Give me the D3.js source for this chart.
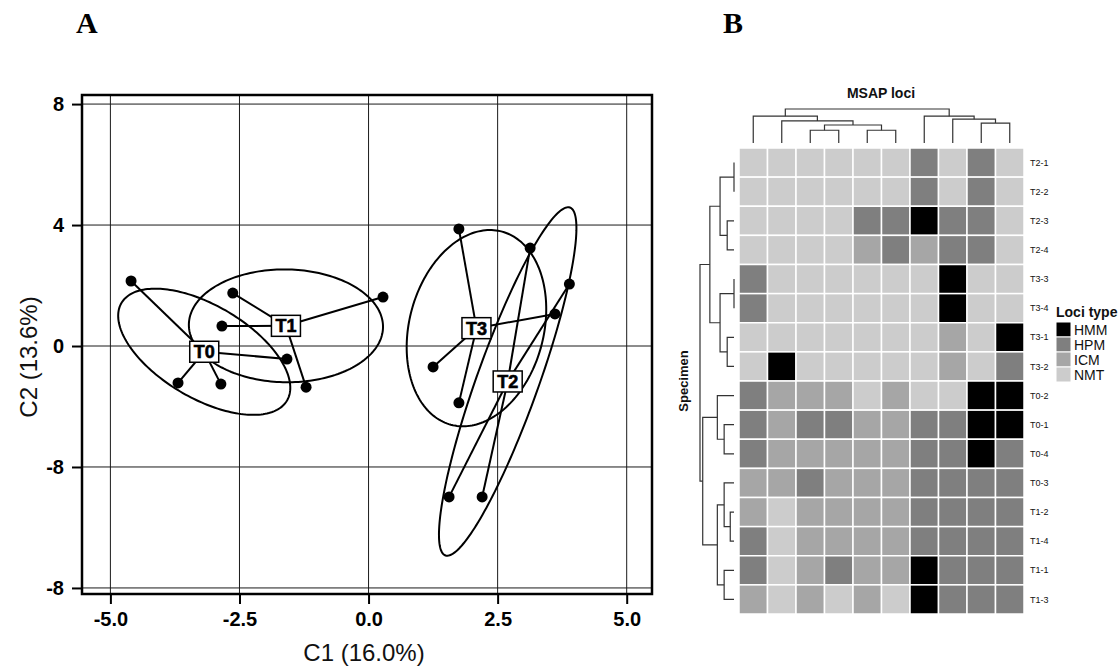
<!DOCTYPE html>
<html>
<head>
<meta charset="utf-8">
<script src="https://cdn.jsdelivr.net/npm/d3@7"></script>
<style>
  body { margin: 0; background: #fff; }
  svg { display: block; }
</style>
</head>
<body>
<script>
// ---- Panel A data: PCoA scores per specimen ----
const pcoaGroup = ['T0','T0','T0','T0','T1','T1','T1','T1','T3','T3','T3','T3','T2','T2','T2','T2'];
const pcoaC1 = [-4.60,-3.69,-2.86,-1.58, -2.63,-2.84,-1.21,0.28, 1.75,1.25,1.75,3.61, 3.13,3.89,1.56,2.20];
const pcoaC2 = [2.15,-1.22,-1.26,-0.43, 1.75,0.66,-1.36,1.62, 3.87,-0.69,-1.88,1.06, 3.24,2.05,-4.99,-4.99];
const groupOrder = ['T0','T1','T3','T2'];
const xTicks = [-5, -2.5, 0, 2.5, 5];
const xTickLabels = ['-5.0','-2.5','0.0','2.5','5.0'];
const yTicks = [8, 4, 0, -4, -8];
const yTickLabels = ['8','4','0','-8','-8'];

// ---- Panel B data: MSAP loci heatmap ----
const specimens = ['T2-1','T2-2','T2-3','T2-4','T3-3','T3-4','T3-1','T3-2',
                   'T0-2','T0-1','T0-4','T0-3','T1-2','T1-4','T1-1','T1-3'];
const lociTypes = ['HMM','HPM','ICM','NMT'];
const lociCount = 10;
const lociMatrix = [
  ['NMT','NMT','NMT','NMT','NMT','NMT','HPM','NMT','HPM','NMT'],
  ['NMT','NMT','NMT','NMT','NMT','NMT','HPM','NMT','HPM','NMT'],
  ['NMT','NMT','NMT','NMT','HPM','HPM','HMM','HPM','HPM','NMT'],
  ['NMT','NMT','NMT','NMT','ICM','HPM','ICM','HPM','HPM','NMT'],
  ['HPM','NMT','NMT','NMT','NMT','NMT','NMT','HMM','NMT','NMT'],
  ['HPM','NMT','NMT','NMT','NMT','NMT','NMT','HMM','NMT','NMT'],
  ['NMT','NMT','NMT','NMT','NMT','NMT','NMT','ICM','NMT','HMM'],
  ['NMT','HMM','NMT','NMT','NMT','NMT','NMT','ICM','NMT','HPM'],
  ['HPM','ICM','ICM','ICM','NMT','ICM','NMT','NMT','HMM','HMM'],
  ['HPM','ICM','HPM','HPM','ICM','ICM','HPM','HPM','HMM','HMM'],
  ['HPM','ICM','ICM','ICM','ICM','ICM','HPM','HPM','HMM','HPM'],
  ['ICM','ICM','HPM','ICM','ICM','ICM','HPM','HPM','HPM','HPM'],
  ['ICM','NMT','ICM','ICM','ICM','ICM','HPM','HPM','HPM','HPM'],
  ['HPM','NMT','ICM','ICM','ICM','ICM','HPM','HPM','HPM','HPM'],
  ['HPM','NMT','ICM','HPM','ICM','ICM','HMM','HPM','HPM','HPM'],
  ['ICM','NMT','ICM','NMT','ICM','NMT','HMM','HPM','HPM','HPM']
];
// hclust-style merges: negative = leaf (1-based, display order), positive = earlier merge
const colMerges = [[-3,-4,0.375],[-5,-6,0.375],[-9,-10,0.586],[1,2,0.53],[-2,4,0.65],
                   [-8,3,0.70],[-1,5,0.79],[-7,6,0.79],[7,8,1.0]];
const rowMerges = [[-1,-2,0.0],[-5,-6,0.0],[-13,-14,0.11],[-3,-4,0.2],[-7,-8,0.2],
                   [-10,-11,0.29],[-12,3,0.29],[-15,-16,0.29],[1,4,0.41],[2,5,0.41],
                   [-9,6,0.49],[7,8,0.49],[9,10,0.71],[11,12,0.92],[13,14,1.0]];

const width = 1120, height = 669;
const svg = d3.select('body').append('svg')
  .attr('width', width).attr('height', height)
  .style('font-family', '"Liberation Sans", Arial, sans-serif');

// panel letters
svg.append('text').attr('x', 76).attr('y', 33).text('A')
  .style('font-family', '"Liberation Serif", "Times New Roman", serif')
  .style('font-weight', 'bold').style('font-size', '30px');
svg.append('text').attr('x', 723).attr('y', 33).text('B')
  .style('font-family', '"Liberation Serif", "Times New Roman", serif')
  .style('font-weight', 'bold').style('font-size', '30px');

// ================= Panel A =================
const x = d3.scaleLinear().domain([-5.55, 5.49]).range([82, 652]);
const y = d3.scaleLinear().domain([-8.2, 8.3]).range([594, 95]);
const pa = svg.append('g');

// grid
pa.selectAll('.vg').data(xTicks).enter().append('line')
  .attr('x1', d => x(d)).attr('x2', d => x(d))
  .attr('y1', y.range()[1]).attr('y2', y.range()[0])
  .attr('stroke', '#1a1a1a').attr('stroke-width', 1);
pa.selectAll('.hg').data(yTicks).enter().append('line')
  .attr('y1', d => y(d)).attr('y2', d => y(d))
  .attr('x1', x.range()[0]).attr('x2', x.range()[1])
  .attr('stroke', '#1a1a1a').attr('stroke-width', 1);

// axes
const yAxis = d3.axisLeft(y).tickValues(yTicks).tickFormat((d, i) => yTickLabels[i])
  .tickSize(10).tickPadding(8);
const xAxis = d3.axisBottom(x).tickValues(xTicks).tickFormat((d, i) => xTickLabels[i])
  .tickSize(10).tickPadding(8);
const gy = pa.append('g').attr('transform', `translate(${x.range()[0]},0)`).call(yAxis);
const gx = pa.append('g').attr('transform', `translate(0,${y.range()[0]})`).call(xAxis);
[gx, gy].forEach(g => {
  g.select('.domain').remove();
  g.selectAll('line').attr('stroke', '#000').attr('stroke-width', 2);
  g.selectAll('text').style('font-size', '20px').style('font-weight', 'bold')
    .style('font-family', '"Liberation Sans", Arial, sans-serif').attr('fill', '#000');
});

// frame
pa.append('rect')
  .attr('x', x.range()[0]).attr('y', y.range()[1])
  .attr('width', x.range()[1] - x.range()[0]).attr('height', y.range()[0] - y.range()[1])
  .attr('fill', 'none').attr('stroke', '#000').attr('stroke-width', 2.5);

// axis titles
pa.append('text').attr('x', 364).attr('y', 661).attr('text-anchor', 'middle')
  .style('font-size', '24px').attr('fill', '#111').text('C1 (16.0%)');
pa.append('text').attr('transform', 'translate(37,357) rotate(-90)').attr('text-anchor', 'middle')
  .style('font-size', '24px').attr('fill', '#111').text('C2 (13.6%)');

// groups: centroid + 1.5 sd ellipse (population covariance)
const pts = pcoaC1.map((c, i) => ({ g: pcoaGroup[i], c1: c, c2: pcoaC2[i] }));
const stats = groupOrder.map(g => {
  const p = pts.filter(d => d.g === g);
  const mx = d3.mean(p, d => d.c1), my = d3.mean(p, d => d.c2);
  const n = p.length;
  const sxx = d3.sum(p, d => (d.c1 - mx) ** 2) / n;
  const syy = d3.sum(p, d => (d.c2 - my) ** 2) / n;
  const sxy = d3.sum(p, d => (d.c1 - mx) * (d.c2 - my)) / n;
  const a = Math.sqrt(sxx), b = sxy / a, c = Math.sqrt(Math.max(syy - b * b, 0));
  const ell = d3.range(0, 201).map(k => {
    const t = k / 200 * 2 * Math.PI;
    return [x(mx + 1.5 * a * Math.cos(t)), y(my + 1.5 * (b * Math.cos(t) + c * Math.sin(t)))];
  });
  return { g, mx, my, p, ell };
});

pa.selectAll('.ell').data(stats).enter().append('path')
  .attr('d', d => d3.line()(d.ell) + 'Z')
  .attr('fill', 'none').attr('stroke', '#000').attr('stroke-width', 2);

stats.forEach(s => {
  pa.selectAll(null).data(s.p).enter().append('line')
    .attr('x1', x(s.mx)).attr('y1', y(s.my))
    .attr('x2', d => x(d.c1)).attr('y2', d => y(d.c2))
    .attr('stroke', '#000').attr('stroke-width', 2);
});

pa.selectAll('.pt').data(pts).enter().append('circle')
  .attr('cx', d => x(d.c1)).attr('cy', d => y(d.c2)).attr('r', 5.5).attr('fill', '#000');

const lab = pa.selectAll('.lab').data(stats).enter().append('g')
  .attr('transform', d => `translate(${x(d.mx)},${y(d.my)})`);
lab.append('rect').attr('x', -14.5).attr('y', -10.5).attr('width', 29).attr('height', 21)
  .attr('fill', '#fff').attr('stroke', '#000').attr('stroke-width', 1.5);
lab.append('text').attr('text-anchor', 'middle').attr('dy', '0.36em')
  .style('font-size', '18px').style('font-weight', 'bold')
  .attr('stroke', '#000').attr('stroke-width', 0.6).text(d => d.g);

// ================= Panel B =================
const pb = svg.append('g');
const cx = d3.scaleBand().domain(d3.range(lociCount)).range([739, 1024]);
const ry = d3.scaleBand().domain(specimens).range([148, 614]);
const fill = d3.scaleOrdinal().domain(lociTypes).range(['#000000', '#7f7f7f', '#a6a6a6', '#cccccc']);

const cells = [];
lociMatrix.forEach((row, i) => row.forEach((v, j) => cells.push({ s: specimens[i], j, v })));
pb.selectAll('.cell').data(cells).enter().append('rect')
  .attr('x', d => cx(d.j)).attr('y', d => ry(d.s))
  .attr('width', cx.bandwidth()).attr('height', ry.bandwidth())
  .attr('fill', d => fill(d.v)).attr('stroke', '#fff').attr('stroke-width', 1.5);

pb.selectAll('.rl').data(specimens).enter().append('text')
  .attr('x', 1030).attr('y', d => ry(d) + ry.bandwidth() / 2).attr('dy', '0.35em')
  .style('font-size', '9px').attr('fill', '#111').text(d => d);

// dendrograms
function dendro(merges, leafPos, hs, vertical) {
  const node = [];
  const pos = k => k < 0 ? leafPos(-k - 1) : node[k - 1].p;
  const hh = k => k < 0 ? 0 : node[k - 1].h;
  const segs = [];
  merges.forEach(([a, b, h]) => {
    const pa_ = pos(a), pb_ = pos(b);
    node.push({ p: (pa_ + pb_) / 2, h });
    segs.push([[pa_, hs(hh(a))], [pa_, hs(h)], [pb_, hs(h)], [pb_, hs(hh(b))]]);
  });
  return segs.map(s => vertical ? s : s.map(([u, v]) => [v, u]));
}
const colSegs = dendro(colMerges, j => cx(j) + cx.bandwidth() / 2,
  d3.scaleLinear().domain([0, 1]).range([143, 109]), true);
const rowSegs = dendro(rowMerges, i => ry(specimens[i]) + ry.bandwidth() / 2,
  d3.scaleLinear().domain([0, 1]).range([734, 700]), false);
pb.selectAll('.dg').data(colSegs.concat(rowSegs)).enter().append('path')
  .attr('d', d => d3.line()(d)).attr('fill', 'none')
  .attr('stroke', '#333').attr('stroke-width', 1.2);

// titles
pb.append('text').attr('x', 881).attr('y', 98).attr('text-anchor', 'middle')
  .style('font-size', '14px').style('font-weight', 'bold').attr('fill', '#111').text('MSAP loci');
pb.append('text').attr('transform', 'translate(688,381) rotate(-90)').attr('text-anchor', 'middle')
  .style('font-size', '13px').style('font-weight', 'bold').attr('fill', '#111').text('Specimen');

// legend
const lg = pb.append('g').attr('transform', 'translate(1056,0)');
lg.append('text').attr('x', 0).attr('y', 317).style('font-size', '14px')
  .style('font-weight', 'bold').attr('fill', '#111').text('Loci type');
const li = lg.selectAll('.li').data(lociTypes).enter().append('g')
  .attr('transform', (d, i) => `translate(0,${322 + i * 15})`);
li.append('rect').attr('width', 15).attr('height', 15).attr('fill', d => fill(d))
  .attr('stroke', '#fff').attr('stroke-width', 1);
li.append('text').attr('x', 18).attr('y', 7.5).attr('dy', '0.36em')
  .style('font-size', '14px').attr('fill', '#111').text(d => d);
</script>
</body>
</html>
